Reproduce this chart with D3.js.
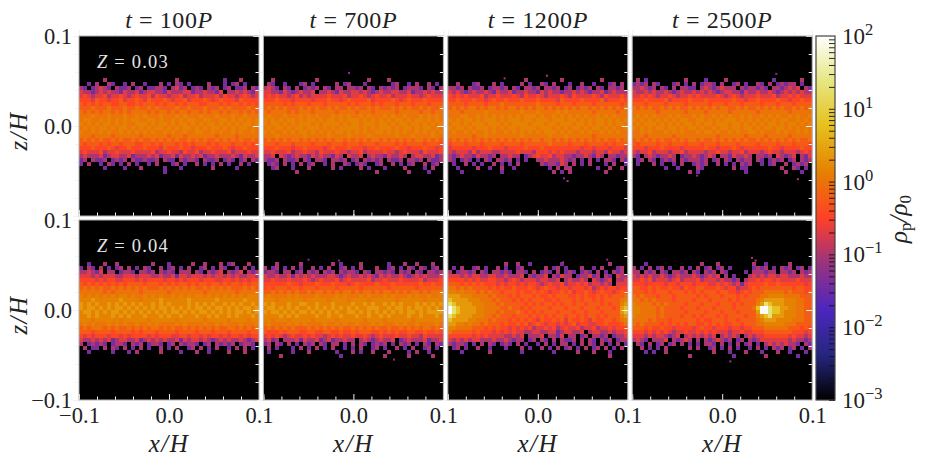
<!DOCTYPE html>
<html>
<head>
<meta charset="utf-8">
<script src="https://cdn.jsdelivr.net/npm/d3@7"></script>
<style>
body { margin: 0; background: #fff; }
text { font-family: "Liberation Serif", serif; fill: #222; }
</style>
</head>
<body>
<div id="chart"></div>
<script>
const times = [100, 700, 1200, 2500]
const metallicities = ["0.03", "0.04"]

const minorTicks = [-0.1, -0.08, -0.06, -0.04, -0.02, 0.02, 0.04, 0.06, 0.08, 0.1]
const majorTicks = [-0.1, 0, 0.1]

// density per level key
const levelKeys = "0123456789ab"
const levelRho = [0.02, 0.04, 0.1, 0.2, 0.35, 0.6, 1.0, 1.4, 2.4, 6, 20, 90]

// CMRmap stops used by the colorbar
const cmapColors = ["#000000", "#262680", "#4d26bf", "#993380", "#ff4026", "#e68000", "#e6bf1a", "#e6e680", "#ffffff"]
const cbarExponents = [-3, -2, -1, 0, 1, 2]

// stray particles outside the grid: panel, x, z, rho
const strayDots = [
  [1, -0.006, 0.06, 0.05], [2, -0.038, 0.054, 0.1], [2, 0.009, 0.057, 0.1], [2, 0.032, -0.06, 0.1],
  [2, 0.028, -0.057, 0.05], [3, 0.059, 0.059, 0.05], [3, 0.083, -0.058, 0.1], [3, -0.029, -0.054, 0.05],
  [5, -0.051, 0.057, 0.05], [5, -0.017, 0.056, 0.05], [5, 0.044, -0.054, 0.05], [6, 0.076, 0.057, 0.05],
  [6, 0.027, 0.054, 0.1], [7, 0.032, 0.059, 0.1], [7, 0.036, 0.056, 0.1], [7, 0.008, -0.056, 0.1]
]

// log density level of each cell, top row first, estimated by eye from each panel
const gridA = [
"......2........ .........2..... ......1...2....",
"..1.2..21..1.2. .1...2.1.21.1.. ..2...1.12.1...",
"21.12321.2112.1 2.11221.2312.12 1.212.12.112.21",
"322123232213223 123322132223312 232213.22323213",
"343233423343234 334243323342334 233342433234323",
"444354434453445 435444543445344 454345444354444",
"545454554455445 455545455454555 445554545545454",
"555655565556556 556565555655655 565556565555655",
"656565665656566 665656656566566 565665656656565",
"666766676667667 676667666767666 766676667667666",
"677667676767677 667767667676776 677667767676767",
"767676776767667 776767767677676 767767676767767",
"676767767677676 767677676767767 676776767677676",
"766767676676767 676766767667667 766767667676676",
"666566665666666 566666656665666 666656666566666",
"565656556565565 655656565655656 565565656565565",
"545554545545554 455454555454545 554545554554545",
"444544454344544 454443544454434 445444543445444",
"343334233433343 333423343324334 233433342333433",
"232223123322312 223231223132232 312232223213223",
"12.2112.1212.21 12112.211.21221 .2112.121.12.21",
"1.2..1.21.1.2.1 ..1.2...12.1..2 .1.1.2.1..2.1..",
"......1....1... 2.....1...1.... ...2.....1.....",
"............... ......1........ ..............."
]
const gridB = [
"..2..........2. ...........2... .2.............",
".21..1...12.1.. ...2.12...1.... ..12..1.2..2.1.",
"2321.21.2.1212. 21.22.2212.21.2 1212.12221.21.2",
"3322132123223.2 232132233232123 223322312232322",
"343433234232333 343334233432343 342333433234333",
"444544434444344 454434544445344 445434544454444",
"555554545554555 455555454555454 555455545554555",
"565656555656565 565655656556565 556565655656556",
"656666565666566 666566665666566 666566666566566",
"676667666767676 667676766767666 767667666767676",
"767676776767767 677676777676767 676776767767676",
"767767676777676 777767677677767 767677677676767",
"676776767767776 767677777676767 776767767677676",
"767667676776767 676776767676677 676767667676767",
"666766666676666 676666766667666 666766676666766",
"565656566565656 565665656565665 656565656656565",
"555455545555455 545554555455545 555454555545554",
"444544434454444 345444544434454 444544344454434",
"334333423343324 333433233423333 433234333243334",
"223.32123221323 22132.3223.2322 132232.23322312",
"2112.2112.21.22 1.2212.12.21212 .2112.2212.2112",
".121.2.1.2.12.. 1.2..21.121..12 ..2.1.12..2.12.",
"..12...1...2... ..2.1....2.1... 1....2....1.2..",
"........2...... .............2. ......2....1..."
]
const gridC = [
"............... ....2........2. ........2......",
"..2...12...2.1. ...2.1..21.2... 1..2..1...12.2.",
"2212.2112.12212 .21.2212.2212.1 2.1212.21.2212.",
"323212322321322 312232213232212 232321223123222",
"434343334233433 343243343233343 243333432433343",
"445444544345445 444544454444354 444544445344454",
"555545555455565 555555565555455 545555455555545",
"565656656566565 665656566565656 565665656565656",
"666566666766666 666766676666767 666666566666566",
"666776676767676 767677767667676 767676676767666",
"767677676777676 777677677767776 776767677676767",
"677676777677767 677776777677677 767767677676776",
"767767677767676 776777767776767 677676776767667",
"676676766767667 676767676777676 766767667676766",
"666666566766666 666766666676667 666666566666666",
"565656565656565 656565665665656 565656565655656",
"455545554555545 555455555565555 455545555454555",
"344444344454443 444454445444444 444344344434443",
"323332423332233 334333244434343 332333233243323",
"212322132212.22 322.12343342332 212232132.22122",
"21.121.1.21.221 2.1.1..22322232 12.1.2.1.221.21",
".1..2.1.1..2.1. 1.2.....2122132 .2.1.2...1.2..1",
"..1....2..1..2. .1........1.2.2 2......1..2..2.",
"...1.........1. ...........2.1. 2........2....."
]
const gridD = [
".2.1.........2. ...1....2...... .....1......2..",
"1212.21...12.1. 2.1221.2..12.1. .21.2.12122.1..",
"223212.21.2.221 1.232123222.212 2121.2212323.21",
"322323223212322 323232123322132 232232123232322",
"334343233432334 343333432343233 343334233434333",
"444544445344445 444544444454434 454444544344544",
"555455554555545 555545554555455 554555455545555",
"656565565656556 565656566556565 565656565565656",
"666666566666656 666566666566666 656666666566666",
"676767666767666 767667676766767 667676766767667",
"767676767676776 677676767776767 676767677667676",
"676777676767677 676776777677676 767677676776767",
"767676776776767 767667677677677 676776776767676",
"667676667676766 676776766767667 767666767667676",
"666566666656666 666666566666656 666566666566666",
"565656565565656 656556565656565 565656565656556",
"545555455455545 554555455554555 545555455545554",
"444344454444344 444544344454344 444454434444544",
"323342333233423 333233433233423 332343323332343",
"21.23212232.122 321232.22132232 .2212.32123.213",
".12.21.1212.212 2212.12.21.2122 .21.1212.12.212",
".1...2.1..1.2.. 1212..2.1.1.212 ..1.12..2.1212.",
"........1..1... .21.......2.11. .......2..21.1.",
"..............2 .1...........1. ........2...1.."
]
const gridE = [
"..1...2..2..... ...2...1.....2. .2...2.12...2..",
"1.21.2.1.12.2.1 .21..2.12.1.2.. 12.1.21..1.2.1.",
"223213.22.1221. 2212.2121.222.2 1.2123.2123.212",
"333232333223332 333223223133233 323233232322332",
"444434344334443 434444344343444 344433443434344",
"545454545454555 545554545455454 554554545545455",
"565656556565656 565556565656565 565656565556565",
"666666565666666 566666656666666 656666666566666",
"767676767677676 676767667676767 767676767676777",
"777877777787777 677778777777877 777787777778777",
"878787787878787 877878787777878 787877878787787",
"878878787887878 787878878787878 878788787878878",
"788787878878787 878787878878787 887878787887878",
"778787778787877 787778787787778 778787787877787",
"777677777767777 776777777677777 767777767777677",
"676766676767667 667676666767666 676676766676667",
"565666565655656 565665656556565 656565566565656",
"555455554555545 455545555455554 555455545555455",
"434344434434344 443434443344344 343443434434344",
"322323231233223 123232322313233 232123232232123",
"2.12121.1221.21 2.1221.12.21221 .12.21212.1221.",
".2.11.2.21.2.1. 2.1..2.1.2..12. 2.1.2..1.2.2.1.",
"..1.....1...1.2 .....2....1...2 ..1....2...2...",
"............... ............... ..............."
]
const gridF = [
"...2.....2..... ..2.1....2..... .1...2..2...2..",
"2.12.1.2.1..2.1 .2..12.1.2...2. .12.1.21.21.12.",
"1221.22.12.212. 212.21221.21.22 121.212.21.2212",
"322322313232322 233212322323213 232232123232223",
"334333433343234 333423433334233 433343333423334",
"444444544344454 445444345444454 445444444544544",
"454555455455545 555455555455555 545555554555555",
"556565656556566 565656656566565 665656566565666",
"676666767666676 666767666767666 767666767667667",
"777677777767777 767777677776777 777677777767777",
"878777877887787 778777787787877 878787778787878",
"788787878778787 878787878778887 787887878878787",
"878878787887878 787877887878787 878787887878888",
"777787878777787 787787778778778 787777877877787",
"776777677777677 777677777767777 677777767777777",
"676666767676666 766767667666767 666767667666676",
"565656565556565 656565565656565 565565656566565",
"544454555445544 554454454555445 454544554454454",
"343432343343433 234343343343234 333433433243333",
"2312.2223132231 23122322.232123 223.12322231223",
"12.21.2.1.212.2 1.22.1.2.21.121 2.1.212.1.21.21",
".2.1...1.2.1.2. 1.2..1.1.2..12. 1..2.1.2..12.1.",
".1.....1...2... ...1...2.1..2.. .2....1.2..1...",
"....2.......... ....1.......... 2.....2.....2.."
]
const gridG = [
"..............2 ..2..1.......1. ..........2....",
".1.2..12.1..2.1 ..12.....2.12.1 ...2..1.2...12.",
"2.12212.21.2212 1.221.2.121.2.1 21.121.2.1.212.",
"333232332233223 2223.21223.2132 2.122312.21.322",
"444434343344332 3432333233223.2 32232.32123.223",
"555454545444343 443434432343342 33434233232.333",
"665656555545454 454445434544344 344434234344344",
"776766656565545 554544545434454 534454345443454",
"888777666656555 454555454454555 445454454545556",
"988887776665655 545454555445455 545455454555567",
"a98888777666565 555545454554545 545545554545578",
"ba9888877666655 655454555545554 555455545554589",
"ba9888877666565 556545454555455 545545554555589",
"a98888777665655 545554545454554 554545545455578",
"988887766656555 454545435445453 544543544554567",
"887767665655545 445453454344343 453443344544456",
"776666555454544 343434233434234 334233423343444",
"655555454443434 343322332233123 3223.2332232334",
"444444343433332 2323.2223.2213. 22.12.2212.1223",
"323232332223223 2122.12.21.2.21 12.2.21.212.122",
"21221.1.2.21.12 1.2.1..1.2.1.22 .1.2.21.2.1.2.1",
".12.1..2..1...1 ...2.1..2.1.2.1 2.1.2.12.2.1.2.",
"...1......2.... ...1.......1... ..2...2...1....",
"............... ............... ..........2...."
]
const gridH = [
"...1........... ..2...2........ 2..1.....2.....",
"2.1.2.12.1..2.1 .2.12.12.1..... 1212.1.212.12.1",
"22.212.21.2212. 21.212.21....1. 222122.2212.212",
"323232232123222 3212323.2.1...2 323233233222322",
"334342333234233 342333232212.23 343443433334333",
"444344443443444 344433434323134 444544544444434",
"554454544544354 455444543442334 545555555545544",
"555454555455545 454555455443454 555666665655545",
"656555455545555 545455545554545 556677776666555",
"665656555545555 455545555454555 567888887776655",
"766665656555545 554555455545455 578a98887776655",
"776666565555455 545554555545555 69bba9988776655",
"776666565555545 555455545554555 58bba9987776655",
"766666565555455 454555454555545 5789a8887776655",
"666656555455555 545445554554555 567888777766655",
"656555545454545 544545454455455 566777776665555",
"555454454434444 345443444344344 555666666555454",
"444343434323343 343434333233433 444555555544434",
"333232332123.23 232323.23232.23 233444444343323",
"2321.2223.21232 .2.2123212.12.2 123333333232212",
".21.2.12.12.2.1 .1.221.2.1.2.12 .1.232323221.21",
"..2.1.1.2.....2 .2..12.1.2.1..1 .2.1.212.12.1.2",
"...1.1..2...... .....2...1...2. ..1...2..1...1.",
"..............2 ..........1.... ...2.......1..."
]
const panelGrids = [gridA, gridB, gridC, gridD, gridE, gridF, gridG, gridH]

const svgWidth = 926, svgHeight = 470
const panelSize = 180
const panelLeft = [79, 263.4, 447.8, 632.2]
const panelTop = [36, 220]
const cbarLeft = 816, cbarWidth = 19, cbarTop = 36, cbarBottom = 400
const gridRows = 24, gridCols = 45, gridHalfZ = 0.05333

const svg = d3.select("#chart").append("svg")
   .attr("width", svgWidth)
   .attr("height", svgHeight)
   .style("display", "block")

const xScale = d3.scaleLinear().domain([-0.1, 0.1]).range([0, panelSize])
const zScale = d3.scaleLinear().domain([0.1, -0.1]).range([0, panelSize])
const colScale = d3.scaleBand().domain(d3.range(gridCols)).range([0, panelSize])
const rowScale = d3.scaleBand().domain(d3.range(gridRows)).range([zScale(gridHalfZ), zScale(-gridHalfZ)])

const rhoStops = cmapColors.map((c, i) => Math.pow(10, -3 + i * 0.625))
const colorScale = d3.scaleLog().domain(rhoStops).range(cmapColors).clamp(true)

function cellsOf(rows) {
   const cells = []
   rows.forEach((row, r) => {
      row.split(" ").join("").split("").forEach((ch, c) => {
         const level = levelKeys.indexOf(ch)
         if (level >= 0) cells.push({ r: r, c: c, rho: levelRho[level] })
      })
   })
   return cells
}

function fmtTick(d) {
   return (d < 0 ? "\u2212" : "") + Math.abs(d).toFixed(1)
}

panelGrids.forEach((rows, i) => {
   const col = i % 4, row = Math.floor(i / 4)
   const g = svg.append("g").attr("transform", "translate(" + panelLeft[col] + "," + panelTop[row] + ")")

   g.append("rect").attr("width", panelSize).attr("height", panelSize).attr("fill", "#000")

   g.selectAll("rect.cell")
      .data(cellsOf(rows))
      .enter()
      .append("rect")
      .attr("class", "cell")
      .attr("x", d => colScale(d.c))
      .attr("y", d => rowScale(d.r))
      .attr("width", colScale.bandwidth())
      .attr("height", rowScale.bandwidth())
      .attr("fill", d => colorScale(d.rho))
      .attr("shape-rendering", "crispEdges")

   g.selectAll("rect.stray")
      .data(strayDots.filter(d => d[0] === i))
      .enter()
      .append("rect")
      .attr("class", "stray")
      .attr("x", d => xScale(d[1]))
      .attr("y", d => zScale(d[2]))
      .attr("width", 2)
      .attr("height", 2)
      .attr("fill", d => colorScale(d[3]))

   // inward ticks on all four sides
   const tickSets = [[minorTicks, 3.5], [majorTicks, 6]]
   tickSets.forEach(set => {
      const vals = set[0], len = set[1]
      const axes = [
         [d3.axisTop(xScale), 0, 0, len],
         [d3.axisBottom(xScale), 0, panelSize, -len],
         [d3.axisLeft(zScale), 0, 0, len],
         [d3.axisRight(zScale), panelSize, 0, -len]
      ]
      axes.forEach(a => {
         const ag = g.append("g")
            .attr("transform", "translate(" + a[1] + "," + a[2] + ")")
            .call(a[0].tickValues(vals).tickSize(a[3]).tickFormat(""))
         ag.select(".domain").remove()
         ag.selectAll("line").attr("stroke", "#f2f2f2").attr("stroke-width", 1)
      })
   })

   g.append("rect")
      .attr("width", panelSize).attr("height", panelSize)
      .attr("fill", "none").attr("stroke", "#b4b4b4").attr("stroke-width", 1)

   if (row === 0) {
      g.append("text")
         .attr("x", panelSize / 2).attr("y", -8)
         .attr("text-anchor", "middle")
         .attr("font-size", 24).attr("letter-spacing", 0.6)
         .html('<tspan font-style="italic">t</tspan> = ' + times[col] + '<tspan font-style="italic">P</tspan>')
   }

   if (col === 0) {
      const zt = g.append("text")
         .attr("x", 18).attr("y", 32)
         .attr("font-size", 18.5).attr("letter-spacing", 1.2)
         .style("fill", "#e4e4e4")
      zt.append("tspan").attr("font-style", "italic").text("Z")
      zt.append("tspan").text(" = " + metallicities[row])

      const yVals = row === 0 ? [0.1, 0] : majorTicks
      const yAxis = g.append("g")
         .call(d3.axisLeft(zScale).tickValues(yVals).tickSize(0).tickPadding(7).tickFormat(fmtTick))
      yAxis.select(".domain").remove()
      yAxis.selectAll("text").attr("font-size", 22.5).style("font-family", '"Liberation Serif", serif').style("fill", "#222")

      g.append("text")
         .attr("transform", "translate(-52," + (panelSize / 2 + 5) + ") rotate(-90)")
         .attr("text-anchor", "middle")
         .attr("font-size", 25).attr("font-style", "italic").attr("letter-spacing", 1.5)
         .text("z/H")
   }

   if (row === 1) {
      const xVals = col === 0 ? majorTicks : [0, 0.1]
      const xAxis = g.append("g")
         .attr("transform", "translate(0," + panelSize + ")")
         .call(d3.axisBottom(xScale).tickValues(xVals).tickSize(0).tickPadding(7).tickFormat(fmtTick))
      xAxis.select(".domain").remove()
      xAxis.selectAll("text").attr("font-size", 22.5).style("font-family", '"Liberation Serif", serif').style("fill", "#222")

      g.append("text")
         .attr("x", panelSize / 2).attr("y", panelSize + 52)
         .attr("text-anchor", "middle")
         .attr("font-size", 25).attr("font-style", "italic").attr("letter-spacing", 1.5)
         .text("x/H")
   }
})

// colorbar
const defs = svg.append("defs")
const grad = defs.append("linearGradient")
   .attr("id", "cmap")
   .attr("x1", 0).attr("y1", 1).attr("x2", 0).attr("y2", 0)
grad.selectAll("stop")
   .data(cmapColors)
   .enter()
   .append("stop")
   .attr("offset", (d, i) => i / (cmapColors.length - 1))
   .attr("stop-color", d => d)

const cbarScale = d3.scaleLog().domain([1e-3, 1e2]).range([cbarBottom - cbarTop, 0])
const cbar = svg.append("g").attr("transform", "translate(" + cbarLeft + "," + cbarTop + ")")

cbar.append("rect")
   .attr("width", cbarWidth).attr("height", cbarBottom - cbarTop)
   .attr("fill", "url(#cmap)")

const cbarTickVals = []
cbarExponents.slice(0, -1).forEach(e => {
   d3.range(1, 10).forEach(m => cbarTickVals.push(m * Math.pow(10, e)))
})

const cbarAxis = cbar.append("g")
   .attr("transform", "translate(" + cbarWidth + ",0)")
   .call(d3.axisRight(cbarScale).tickValues(cbarTickVals).tickSize(-6).tickFormat(""))
cbarAxis.select(".domain").remove()
cbarAxis.selectAll("line").attr("stroke", "#111").attr("stroke-width", 0.9)

cbar.append("rect")
   .attr("width", cbarWidth).attr("height", cbarBottom - cbarTop)
   .attr("fill", "none").attr("stroke", "#444").attr("stroke-width", 1.2)

const cbarLabels = cbar.selectAll("text.cbl")
   .data(cbarExponents)
   .enter()
   .append("text")
   .attr("class", "cbl")
   .attr("x", cbarWidth + 7)
   .attr("y", d => cbarScale(Math.pow(10, d)) + 8)
   .attr("font-size", 23)
cbarLabels.append("tspan").text("10")
cbarLabels.append("tspan")
   .attr("dy", -9)
   .attr("font-size", 16.5)
   .text(d => d < 0 ? "\u2212" + Math.abs(d) : d)

svg.append("text")
   .attr("transform", "translate(907,219) rotate(-90)")
   .attr("text-anchor", "middle")
   .attr("font-size", 25)
   .html('<tspan font-style="italic">\u03c1</tspan><tspan font-size="17" dy="4">p</tspan><tspan dy="-4" font-style="italic">/\u03c1</tspan><tspan font-size="17" dy="4">0</tspan>')
</script>
</body>
</html>
